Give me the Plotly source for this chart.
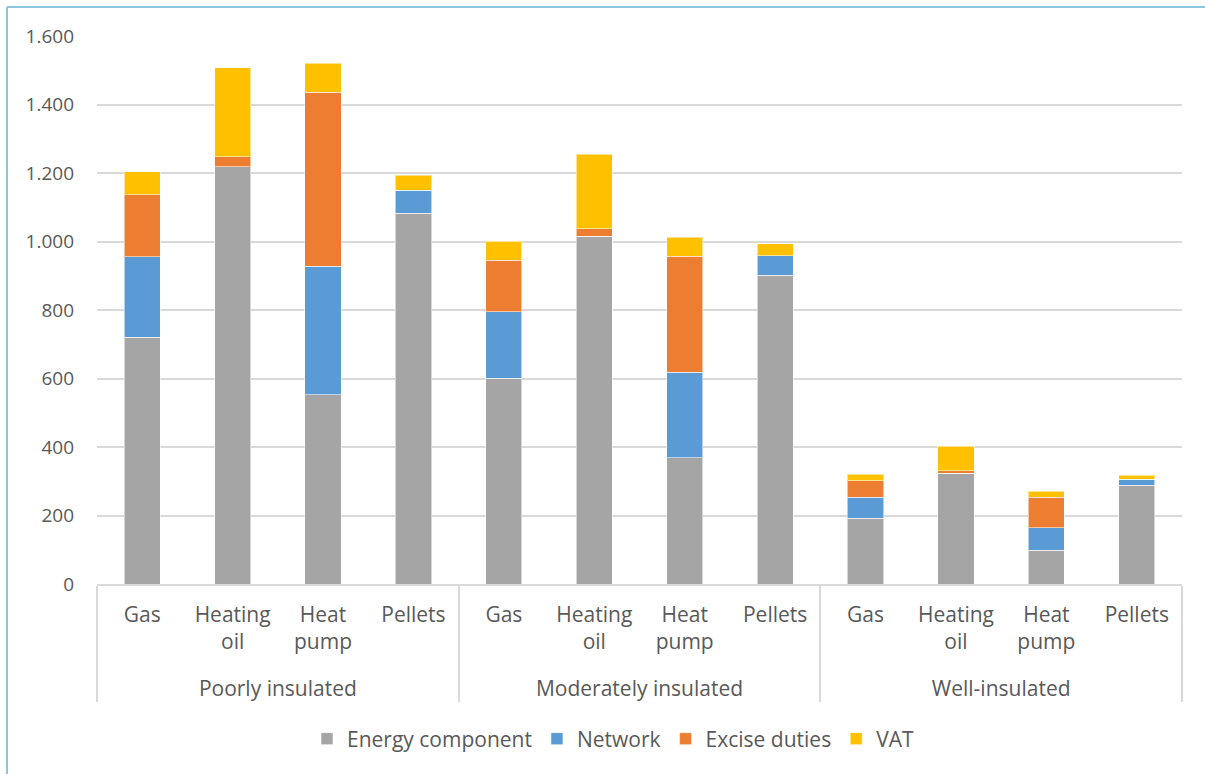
import plotly.graph_objects as go

groups = ["Poorly insulated"] * 4 + ["Moderately insulated"] * 4 + ["Well-insulated"] * 4
fuels = ["Gas<br> ", "Heating<br>oil<br> ", "Heat<br>pump<br> ", "Pellets<br> "] * 3

energy = [721, 1218, 552, 1083, 601, 1015, 368, 902, 192, 323, 98, 288]
network = [234, 0, 376, 67, 194, 0, 250, 57, 61, 0, 66, 18]
excise = [181, 29, 508, 0, 150, 22, 339, 0, 49, 8, 89, 0]
vat = [67, 260, 85, 44, 56, 218, 56, 35, 19, 71, 18, 11]

series = [
    ("Energy component", energy, "#A5A5A5"),
    ("Network", network, "#5B9BD5"),
    ("Excise duties", excise, "#ED7D31"),
    ("VAT", vat, "#FFC000"),
]

FONT = "Open Sans"
TXT = "#595959"

fig = go.Figure()
for name, vals, col in series:
    fig.add_trace(go.Bar(
        x=[groups, fuels], y=vals, name=name,
        marker=dict(color=col, line=dict(color="rgba(255,255,255,0.55)", width=1)),
    ))

W, H = 1205, 774
L, R, T, B = 97, 23, 36, 190
pw, ph = W - L - R, H - T - B

def px_x(p):
    return (p - L) / pw

def px_y(p):
    return (H - B - p) / ph

fig.update_layout(
    width=W, height=H,
    barmode="stack", bargap=0.6,
    separators=",.",
    paper_bgcolor="white", plot_bgcolor="white",
    margin=dict(l=L, r=R, t=T, b=B, autoexpand=False),
    font=dict(family=FONT, size=21, color=TXT),
    showlegend=True,
    legend=dict(orientation="h", x=px_x(613), xanchor="center", y=px_y(739), yanchor="middle",
                font=dict(family=FONT, size=21, color=TXT), traceorder="normal",
                itemwidth=30),
    xaxis=dict(
        type="multicategory", showline=True, linecolor="#d9d9d9", linewidth=1.5,
        showgrid=False, ticks="", showdividers=True, dividercolor="#d9d9d9",
        dividerwidth=1.5, ticklabelstandoff=11,
        tickfont=dict(family=FONT, size=21, color=TXT),
    ),
    yaxis=dict(
        range=[0, 1600], dtick=200, tickformat=",d", showgrid=True,
        gridcolor="#d9d9d9", gridwidth=1.5, zeroline=False, showline=False,
        ticks="", ticklabelstandoff=22,
        tickfont=dict(family=FONT, size=19, color=TXT),
    ),
    shapes=[
        dict(type="line", xref="paper", yref="paper", x0=px_x(7), x1=px_x(7),
             y0=px_y(7), y1=px_y(H + 5), line=dict(color="#8EC4DC", width=2)),
        dict(type="line", xref="paper", yref="paper", x0=px_x(7), x1=px_x(W + 5),
             y0=px_y(7), y1=px_y(7), line=dict(color="#8EC4DC", width=2)),
    ],
)

fig.write_html("out.html", config={"displayModeBar": False},
               post_script="document.body.style.margin='0';document.body.style.overflow='hidden';")
